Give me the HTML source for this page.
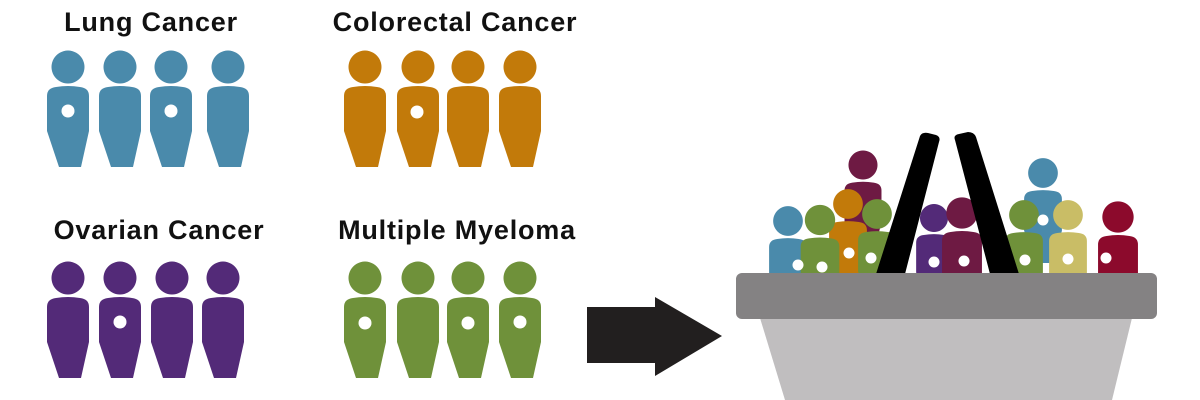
<!DOCTYPE html>
<html><head><style>
html,body{margin:0;padding:0;background:#fff;}
svg{display:block}
text{font-family:"Liberation Sans",sans-serif;font-weight:bold;font-size:27px;letter-spacing:0.8px;fill:#111;}
</style></head><body>
<svg width="1200" height="400" viewBox="0 0 1200 400">
<defs>
<path id="p" d="M0,-16.5 A16.5,16.5 0 1 1 -0.01,-16.5 Z M-21,29 Q-21,21 -12,20 Q0,18 12,20 Q21,21 21,29 L21,64 L13,100 L-9,100 L-21,64 Z"/>
</defs>
<text x="151" y="31" text-anchor="middle">Lung Cancer</text>
<text x="455" y="31" text-anchor="middle">Colorectal Cancer</text>
<text x="159" y="239" text-anchor="middle">Ovarian Cancer</text>
<text x="457" y="239" text-anchor="middle">Multiple Myeloma</text>

<g fill="#4a8aab">
<use href="#p" x="68" y="67"/><use href="#p" x="120" y="67"/><use href="#p" x="171" y="67"/><use href="#p" x="228" y="67"/>
</g>
<g fill="#c27a0a">
<use href="#p" x="365" y="67"/><use href="#p" x="418" y="67"/><use href="#p" x="468" y="67"/><use href="#p" x="520" y="67"/>
</g>
<g fill="#532a78">
<use href="#p" x="68" y="278"/><use href="#p" x="120" y="278"/><use href="#p" x="172" y="278"/><use href="#p" x="223" y="278"/>
</g>
<g fill="#6f913a">
<use href="#p" x="365" y="278"/><use href="#p" x="418" y="278"/><use href="#p" x="468" y="278"/><use href="#p" x="520" y="278"/>
</g>
<g fill="#fff">
<circle cx="68" cy="111" r="6.5"/><circle cx="171" cy="111" r="6.5"/>
<circle cx="417" cy="112" r="6.5"/>
<circle cx="120" cy="322" r="6.5"/>
<circle cx="365" cy="323" r="6.5"/><circle cx="468" cy="323" r="6.5"/><circle cx="520" cy="322" r="6.5"/>
</g>

<path d="M587,307 L655,307 L655,297 L722,336 L655,376 L655,363 L587,363 Z" fill="#221f1f"/>

<g>
<use href="#p" x="863" y="165" fill="#6e1a43" transform="translate(863 165) scale(0.88) translate(-863 -165)"/>
<use href="#p" x="1043" y="173" fill="#4a8aab" transform="translate(1043 173) scale(0.9) translate(-1043 -173)"/>
<use href="#p" x="788" y="221" fill="#4a8aab" transform="translate(788 221) scale(0.9) translate(-788 -221)"/>
<use href="#p" x="848" y="204" fill="#c27a0a" transform="translate(848 204) scale(0.9) translate(-848 -204)"/>
<use href="#p" x="820" y="220" fill="#6f913a" transform="translate(820 220) scale(0.92) translate(-820 -220)"/>
<use href="#p" x="877" y="214" fill="#6f913a" transform="translate(877 214) scale(0.9) translate(-877 -214)"/>
<use href="#p" x="934" y="218" fill="#532a78" transform="translate(934 218) scale(0.85) translate(-934 -218)"/>
<use href="#p" x="962" y="213" fill="#6e1a43" transform="translate(962 213) scale(0.95) translate(-962 -213)"/>
<use href="#p" x="1024" y="215" fill="#6f913a" transform="translate(1024 215) scale(0.9) translate(-1024 -215)"/>
<use href="#p" x="1068" y="215" fill="#c9bd66" transform="translate(1068 215) scale(0.9) translate(-1068 -215)"/>
<use href="#p" x="1118" y="217" fill="#8c0a2c" transform="translate(1118 217) scale(0.95) translate(-1118 -217)"/>
</g>
<g fill="#fff">
<circle cx="798" cy="265" r="5.5"/><circle cx="822" cy="267" r="5.5"/><circle cx="849" cy="253" r="5.5"/>
<circle cx="871" cy="258" r="5.5"/><circle cx="934" cy="262" r="5.5"/><circle cx="964" cy="261" r="5.5"/>
<circle cx="1043" cy="220" r="5.5"/><circle cx="1025" cy="260" r="5.5"/><circle cx="1068" cy="259" r="5.5"/><circle cx="1106" cy="258" r="5.5"/>
</g>
<path d="M920,136 Q922,132 928,133 L936,135 Q941,137 939,142 L905,274 L876,274 Z" fill="#000"/>
<path d="M955,140 Q953,135 959,134 L968,132 Q974,132 976,137 L1019,274 L990,274 Z" fill="#000"/>
<path d="M760,318 L1132,318 L1112,400 L785,400 Z" fill="#c0bebf"/>
<rect x="736" y="273" width="421" height="46" rx="6" fill="#848283"/>
</svg>
</body></html>
